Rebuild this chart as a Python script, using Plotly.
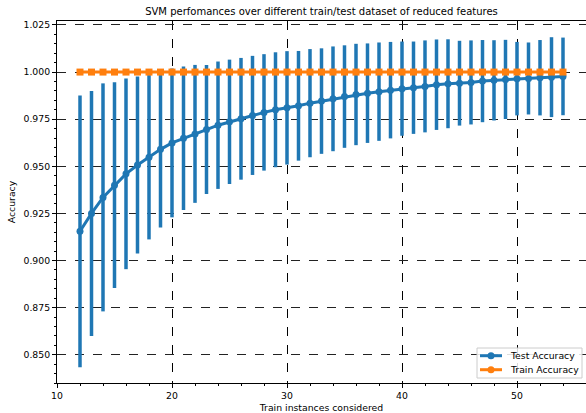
import plotly.graph_objects as go

train_sizes = list(range(12, 55))
test_mean = [0.9155, 0.925, 0.9335, 0.940, 0.946, 0.9507, 0.9548, 0.959, 0.9624, 0.9649,
             0.9672, 0.9695, 0.9718, 0.9736, 0.9752, 0.977, 0.9786, 0.980, 0.981, 0.9821,
             0.9835, 0.9846, 0.9858, 0.987, 0.9881, 0.9888, 0.9896, 0.9904, 0.9912, 0.9917,
             0.9924, 0.9933, 0.9938, 0.9941, 0.9945, 0.9952, 0.9956, 0.9961, 0.9965, 0.9966,
             0.997, 0.9973, 0.9977]
test_std = [0.0721, 0.065, 0.0605, 0.0546, 0.0506, 0.047, 0.0436, 0.0415, 0.0395, 0.0381,
            0.0366, 0.0342, 0.0338, 0.033, 0.0323, 0.0316, 0.0309, 0.0305, 0.0301, 0.0291,
            0.0287, 0.028, 0.0278, 0.0272, 0.0269, 0.0264, 0.0261, 0.0256, 0.025, 0.0245,
            0.0244, 0.024, 0.0236, 0.0225, 0.0223, 0.0218, 0.0213, 0.021, 0.0195, 0.0191,
            0.02, 0.0212, 0.0206]
train_mean = [1.0] * len(train_sizes)
legend_labels = ["Test Accuracy", "Train Accuracy"]

blue = "#1f77b4"
orange = "#ff7f0e"
font = "DejaVu Sans"

W, H = 586, 413
ML, MR, MT, MB = 57, 0, 21, 30
PW, PH = W - ML - MR, H - MT - MB


def px(x):
    return (x - ML) / PW


def py(y):
    return (H - MB - y) / PH


fig = go.Figure()
fig.add_trace(go.Scatter(
    x=train_sizes, y=test_mean, name=legend_labels[0], mode="lines+markers",
    line=dict(color=blue, width=3), marker=dict(symbol="circle", size=7, color=blue),
    error_y=dict(type="data", array=test_std, visible=True, color=blue, thickness=3.5, width=0),
))
fig.add_trace(go.Scatter(
    x=train_sizes, y=train_mean, name=legend_labels[1], mode="lines+markers",
    line=dict(color=orange, width=3), marker=dict(symbol="square", size=7, color=orange),
))

# custom legend (matplotlib-like compact box)
shapes = [dict(type="rect", xref="paper", yref="paper",
               x0=px(477), x1=px(582), y0=py(378), y1=py(348),
               line=dict(color="#cccccc", width=1), fillcolor="rgba(255,255,255,0.85)",
               layer="above")]
annotations = []
for lbl, col, rowy in zip(legend_labels, [blue, orange], [355.7, 369.7]):
    shapes.append(dict(type="line", xref="paper", yref="paper",
                       x0=px(480), x1=px(502), y0=py(rowy), y1=py(rowy),
                       line=dict(color=col, width=3), layer="above"))
    shapes.append(dict(type="circle", xref="paper", yref="paper",
                       x0=px(491 - 3.5), x1=px(491 + 3.5), y0=py(rowy + 3.5), y1=py(rowy - 3.5),
                       line=dict(color=col, width=0), fillcolor=col, layer="above"))
    annotations.append(dict(text=lbl, xref="paper", yref="paper", x=px(508), y=py(rowy),
                            xanchor="left", yanchor="middle", showarrow=False,
                            font=dict(size=9.3, family=font, color="black")))

fig.update_layout(
    width=W, height=H,
    margin=dict(l=ML, r=MR, t=MT, b=MB),
    paper_bgcolor="white", plot_bgcolor="white",
    font=dict(family=font, size=9.3, color="black"),
    title=dict(text="SVM perfomances over different train/test dataset of reduced features",
               x=0.5, xref="paper", xanchor="center", y=1 - 11 / H, yanchor="middle",
               font=dict(size=10, family=font, color="black")),
    showlegend=False,
    shapes=shapes,
    annotations=annotations,
)

fig.update_xaxes(
    range=[10, 56.0], tickvals=[10, 20, 30, 40, 50],
    showline=True, linecolor="black", linewidth=1, mirror=True,
    ticks="outside", ticklen=4, tickcolor="black",
    showgrid=True, gridcolor="black", griddash="dash", gridwidth=1,
    zeroline=False,
    minor=dict(dtick=2, tick0=10, ticks="outside", ticklen=2, tickcolor="black", showgrid=False),
    title=dict(text="Train instances considered", font=dict(size=9.3, family=font), standoff=4),
)
fig.update_yaxes(
    range=[0.835, 1.0271], tickvals=[0.85, 0.875, 0.9, 0.925, 0.95, 0.975, 1.0, 1.025],
    tickformat=".3f",
    showline=True, linecolor="black", linewidth=1,
    ticks="outside", ticklen=4, tickcolor="black",
    showgrid=True, gridcolor="#222222", griddash="dash", gridwidth=1,
    zeroline=False,
    minor=dict(dtick=0.005, tick0=0.85, ticks="outside", ticklen=2, tickcolor="black", showgrid=False),
    title=dict(text="Accuracy", font=dict(size=9.3, family=font), standoff=6),
)

fig.write_html("out.html")
